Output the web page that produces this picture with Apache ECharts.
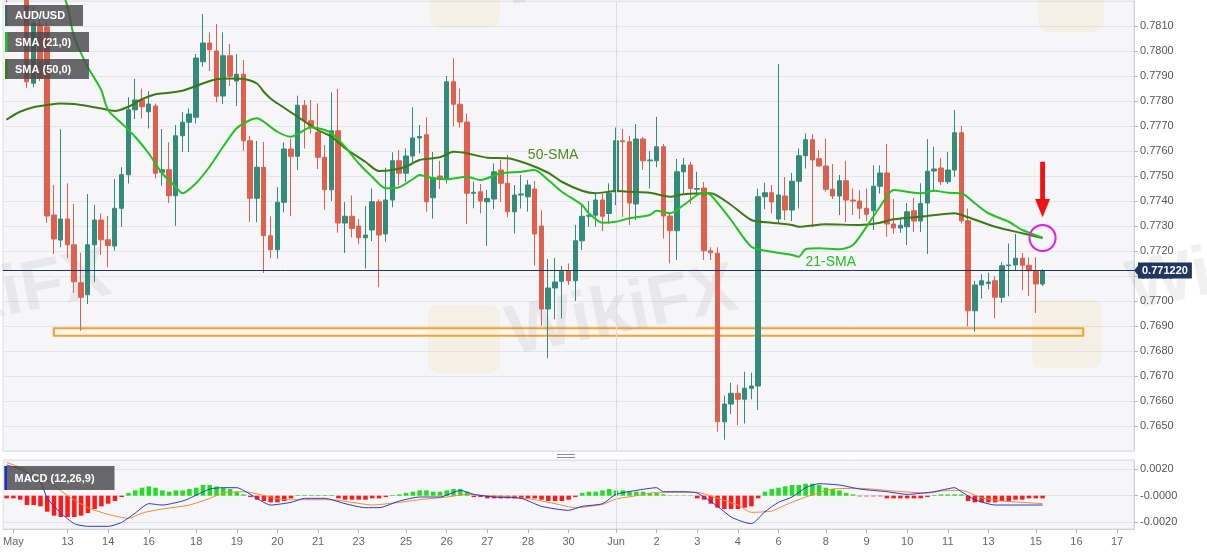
<!DOCTYPE html>
<html><head><meta charset="utf-8">
<script src="https://cdn.jsdelivr.net/npm/echarts@6/dist/echarts.min.js"></script>
<style>html,body{margin:0;padding:0;background:#fff;}#c{width:1207px;height:555px;}</style>
</head><body><div id="c"></div>
<script>
// ---------- DATA ----------
const slotCount = 167; // 4-hour slots on the time axis (incl. empty future slots)
const xTicks = [[1,'May'],[9,'13'],[15,'14'],[21,'16'],[28,'18'],[34,'19'],[40,'20'],[46,'21'],[52,'23'],[59,'25'],[65,'26'],[71,'27'],[77,'28'],[83,'30'],[90,'Jun'],[96,'2'],[102,'3'],[108,'4'],[114,'6'],[121,'8'],[127,'9'],[133,'10'],[139,'11'],[145,'13'],[152,'15'],[158,'16'],[164,'17']];
const monthStartSlot = 90;
// [open, high, low, close]
const candles = [
[0.7835,0.7840,0.78195,0.7826],[0.7826,0.7838,0.7822,0.7833],[0.7833,0.7837,0.7823,0.7825],[0.7825,0.7829,0.77851,0.77877],
[0.77871,0.78177,0.77855,0.78111],[0.78104,0.7815,0.7788,0.77891],[0.78097,0.7812,0.77313,0.7734],[0.77344,0.77464,0.77188,0.77248],
[0.77244,0.77687,0.77215,0.77328],[0.77328,0.77471,0.77171,0.77225],[0.77225,0.77388,0.77032,0.77077],[0.77073,0.77193,0.76881,0.77015],
[0.77025,0.77428,0.76988,0.77225],[0.77225,0.77385,0.77075,0.77324],[0.77324,0.7735,0.77184,0.77245],[0.77245,0.7734,0.77135,0.77222],
[0.7722,0.77488,0.77201,0.77371],[0.77371,0.77535,0.77297,0.77505],[0.77505,0.77815,0.7747,0.77765],[0.77765,0.77888,0.77728,0.77804],
[0.77804,0.7785,0.7773,0.77777],[0.77757,0.7784,0.7769,0.77788],[0.7778,0.7779,0.7749,0.77511],[0.77515,0.77688,0.77461,0.77525],
[0.77525,0.77635,0.77392,0.77421],[0.77421,0.77704,0.77301,0.77661],[0.77661,0.77756,0.77596,0.77715],[0.77715,0.7777,0.77596,0.77748],
[0.77735,0.77988,0.7771,0.77972],[0.77957,0.78148,0.77937,0.78032],[0.78032,0.78075,0.7792,0.78005],[0.78,0.78108,0.77795,0.77819],
[0.7782,0.78075,0.77788,0.77981],[0.77981,0.78028,0.7786,0.77899],[0.7788,0.77988,0.7778,0.77907],[0.77907,0.77964,0.77601,0.77641],
[0.77641,0.7766,0.77317,0.77411],[0.77411,0.7764,0.77315,0.77535],[0.77535,0.77636,0.77112,0.77261],[0.77261,0.77339,0.77171,0.77205],
[0.77205,0.77455,0.7717,0.77395],[0.77395,0.77635,0.77355,0.77608],[0.77608,0.77649,0.77339,0.77579],[0.77579,0.77821,0.77524,0.77783],
[0.77783,0.77804,0.7761,0.77721],[0.77721,0.77804,0.7767,0.77693],[0.77675,0.7779,0.77528,0.77575],[0.77575,0.77624,0.77365,0.77445],
[0.77445,0.77835,0.774,0.77681],[0.77681,0.77848,0.77273,0.77312],[0.77312,0.77395,0.77192,0.77339],[0.77339,0.77422,0.77254,0.7729],
[0.773,0.77328,0.77227,0.77253],[0.77253,0.7738,0.7713,0.77264],[0.77284,0.7745,0.7724,0.77397],[0.77397,0.77407,0.77055,0.77264],
[0.77268,0.77533,0.77237,0.77404],[0.77404,0.77595,0.77375,0.77561],[0.77561,0.77604,0.77464,0.77511],[0.77511,0.7761,0.77475,0.7758],
[0.7758,0.77775,0.77555,0.77652],[0.77652,0.77704,0.77591,0.77658],[0.77665,0.77735,0.77357,0.77397],[0.77413,0.77596,0.7733,0.77493],
[0.775,0.77561,0.77448,0.77487],[0.77487,0.779,0.7747,0.77877],[0.77877,0.77971,0.77699,0.77787],[0.77787,0.7785,0.77694,0.77716],
[0.77716,0.7775,0.77308,0.77431],[0.77431,0.77477,0.77371,0.77435],[0.77437,0.77468,0.7735,0.774],[0.77397,0.77444,0.7722,0.7741],
[0.77408,0.7755,0.77367,0.77517],[0.77524,0.77564,0.77397,0.77471],[0.77471,0.77584,0.77335,0.77357],[0.77357,0.77464,0.7727,0.77424],
[0.77424,0.77504,0.7737,0.77428],[0.77417,0.77484,0.77357,0.77464],[0.77448,0.7748,0.77141,0.77268],[0.773,0.77363,0.76901,0.76968],
[0.76968,0.77168,0.76771,0.77052],[0.77052,0.77172,0.76927,0.77076],[0.77079,0.7714,0.7693,0.77119],[0.77121,0.7715,0.77064,0.77081],
[0.77081,0.77304,0.77,0.77241],[0.77241,0.77388,0.77204,0.77339],[0.77339,0.774,0.77297,0.77343],[0.77343,0.77428,0.77297,0.77404],
[0.77404,0.77428,0.7728,0.77339],[0.7735,0.77471,0.7731,0.77431],[0.77437,0.77694,0.77384,0.77641],[0.77641,0.77688,0.77337,0.77637],
[0.77637,0.77661,0.77304,0.77392],[0.77388,0.77708,0.77324,0.77648],[0.77648,0.77656,0.77524,0.77561],[0.77561,0.776,0.7745,0.77564],
[0.77561,0.77737,0.77535,0.77617],[0.77617,0.77628,0.7725,0.7734],[0.7734,0.7735,0.7715,0.77281],[0.77281,0.77568,0.77164,0.77517],
[0.77517,0.77572,0.77431,0.77544],[0.77544,0.77557,0.77388,0.7745],[0.77447,0.77517,0.7742,0.7745],[0.77452,0.77476,0.77164,0.77201],
[0.77201,0.77215,0.77164,0.77193],[0.77191,0.77215,0.76477,0.76517],[0.76517,0.76621,0.76445,0.76588],[0.76588,0.76673,0.76548,0.76631],
[0.76631,0.76665,0.76503,0.76607],[0.76607,0.76717,0.7651,0.76651],[0.76651,0.76713,0.76607,0.7666],[0.7666,0.7745,0.76564,0.77417],
[0.77417,0.77473,0.77367,0.77433],[0.77433,0.77464,0.77351,0.77396],[0.77328,0.77948,0.77308,0.77424],[0.7742,0.77496,0.77324,0.77364],
[0.77364,0.77512,0.7732,0.77479],[0.77479,0.7761,0.7737,0.77581],[0.77581,0.7767,0.7753,0.77645],[0.77645,0.77668,0.77295,0.77564],
[0.77569,0.77604,0.77537,0.7754],[0.7754,0.7765,0.77437,0.77447],[0.77447,0.77548,0.77408,0.7742],[0.7742,0.77504,0.77344,0.77481],
[0.77481,0.77561,0.77316,0.77404],[0.77404,0.7745,0.77344,0.774],[0.774,0.77444,0.77328,0.77371],[0.77371,0.7745,0.7732,0.77347],
[0.77361,0.77543,0.77284,0.77459],[0.77459,0.77543,0.7743,0.77512],[0.77512,0.77628,0.77257,0.77308],[0.77308,0.77408,0.77268,0.77292],
[0.77292,0.77333,0.77273,0.77303],[0.77297,0.77392,0.77224,0.77357],[0.77361,0.77413,0.77276,0.7732],[0.7732,0.77471,0.77276,0.7739],
[0.77392,0.77648,0.77188,0.77519],[0.7752,0.77617,0.77436,0.77528],[0.77532,0.77572,0.77464,0.77477],[0.77477,0.77596,0.77468,0.77524],
[0.77524,0.77764,0.77497,0.77673],[0.77673,0.777,0.7731,0.77321],[0.77321,0.7737,0.76899,0.76961],[0.76961,0.77081,0.76877,0.77064],
[0.77064,0.77107,0.7701,0.77081],[0.7707,0.77113,0.77047,0.77076],[0.77081,0.77099,0.76931,0.77015],[0.77015,0.77155,0.76993,0.77141],
[0.77141,0.7723,0.77019,0.77144],[0.77144,0.77268,0.77121,0.77171],[0.77171,0.77192,0.77043,0.77143],[0.77143,0.77175,0.7702,0.77121],
[0.77121,0.77175,0.76952,0.77068],[0.77068,0.77127,0.7706,0.77122]
];
// [slot, value]
const sma21 = [[6,0.7842],[9,0.7818],[10,0.78057],[12,0.77937],[14,0.77844],[15,0.77764],[17,0.77711],[19,0.77657],[21,0.77591],[23,0.77511],[25,0.77457],[26,0.77431],[28,0.77471],[30,0.77537],[32,0.77617],[34,0.77691],[36,0.77724],[37,0.77731],[38,0.77717],[40,0.77677],[42,0.77657],[43,0.77668],[45,0.77695],[47,0.77684],[48,0.77671],[50,0.77617],[52,0.77551],[54,0.77497],[56,0.77451],[58,0.77455],[60,0.77487],[61,0.77504],[63,0.77491],[65,0.77487],[68,0.77497],[70,0.77484],[73,0.77511],[76,0.77517],[78,0.77524],[80,0.77484],[82,0.77437],[85,0.77384],[86,0.77351],[88,0.77313],[90,0.77317],[92,0.77331],[95,0.77344],[96,0.77361],[98,0.77351],[100,0.77384],[102,0.77424],[103,0.77433],[104,0.77424],[107,0.77324],[110,0.77217],[113,0.77197],[116,0.77184],[117,0.77177],[118,0.77207],[120,0.77211],[123,0.77207],[125,0.77224],[127,0.77297],[129,0.77377],[131,0.77444],[133,0.77437],[135,0.77431],[137,0.77441],[139,0.77433],[141,0.77431],[143,0.77391],[145,0.77351],[148,0.77317],[150,0.77284],[153,0.77253]];
const sma50 = [[0,0.77725],[2,0.77757],[4,0.77775],[6,0.77784],[8,0.7779],[10,0.77788],[12,0.7778],[14,0.7777],[16,0.7776],[18,0.77777],[20,0.77807],[22,0.77827],[24,0.77833],[26,0.77841],[28,0.7786],[29,0.7787],[31,0.77887],[33,0.7789],[35,0.77888],[37,0.7787],[38,0.77837],[39,0.7781],[40,0.77791],[43,0.77737],[46,0.77684],[48,0.77657],[50,0.77611],[53,0.77557],[55,0.7752],[57,0.77524],[59,0.77537],[61,0.77564],[64,0.77575],[66,0.77597],[68,0.77591],[71,0.77573],[74,0.77571],[77,0.77548],[80,0.77513],[82,0.77477],[85,0.77441],[87,0.77431],[90,0.7744],[92,0.77437],[95,0.77433],[98,0.77417],[100,0.77427],[104,0.77431],[107,0.77384],[110,0.77324],[113,0.77313],[116,0.77304],[117,0.77297],[121,0.77307],[126,0.77304],[129,0.77313],[131,0.77327],[136,0.7734],[140,0.77351],[142,0.77335],[146,0.77297],[150,0.77271],[153,0.77252]];
const macdLine = [[0,0.0023],[2,0.0020],[5,0.0010],[6,-0.0002],[8,-0.0013],[10,-0.0021],[12,-0.0023],[15,-0.0023],[17,-0.0020],[19,-0.0013],[21,-0.0006],[23,-0.0007],[26,-0.0004],[27,-0.0002],[30,0.0005],[32,0.0006],[34,0.0006],[36,0.0001],[39,-0.0007],[42,-0.0005],[44,-0.0002],[47,-0.0002],[50,-0.0006],[53,-0.0009],[55,-0.0009],[58,-0.0004],[61,-0.0001],[64,-0.0001],[67,0.0004],[69,0.0001],[72,-0.0001],[76,-0.0002],[79,-0.0008],[83,-0.0011],[85,-0.0008],[88,-0.0006],[90,0.0001],[93,0.0004],[96,0.0006],[97,0.0003],[100,0.0003],[102,0.0002],[105,-0.0008],[107,-0.0016],[109,-0.0020],[110,-0.0021],[112,-0.0012],[114,-0.0005],[116,-0.0001],[118,0.0006],[120,0.0009],[123,0.0008],[126,0.0005],[130,0.0003],[133,0.0001],[137,0.0003],[140,0.0006],[141,0.0003],[143,-0.0003],[146,-0.0007],[148,-0.0007],[153,-0.0007]];
const signalLine = [[0,0.0025],[5,0.0015],[9,0.0],[12,-0.0009],[15,-0.0014],[18,-0.0017],[20,-0.0013],[23,-0.0010],[27,-0.0007],[30,-0.0002],[32,0.0002],[35,0.0003],[39,-0.0001],[41,-0.0003],[44,-0.0003],[48,-0.0003],[51,-0.0005],[54,-0.0007],[58,-0.0005],[61,-0.0003],[65,-0.0001],[68,0.0001],[71,0.0],[75,-0.0001],[78,-0.0003],[81,-0.0006],[84,-0.0009],[88,-0.00065],[90,-0.00025],[93,0.0],[96,0.00025],[99,0.00025],[102,0.00025],[105,-0.0002],[108,-0.0007],[110,-0.00125],[113,-0.00115],[115,-0.0007],[118,-0.0001],[122,0.0005],[126,0.00055],[131,0.00035],[136,0.0002],[139,0.0004],[141,0.0004],[144,-0.00015],[147,-0.0004],[150,-0.0005],[153,-0.0006]];
const macdHist = [
-0.0002,-0.0002,-0.0003,-0.0007,-0.0007,-0.0008,-0.0012,-0.0015,-0.0016,-0.0016,-0.0016,-0.0015,-0.0013,-0.0010,-0.0008,-0.0006,-0.0004,-0.0001,
0.0002,0.0004,0.0006,0.0007,0.0006,0.0004,0.0003,0.0004,0.0004,0.0005,0.0006,0.0008,0.0008,0.0007,0.0006,0.0005,0.0003,0.0001,
-0.0001,-0.0003,-0.0004,-0.0005,-0.0005,-0.0004,-0.0002,
0.00005,0.00005,0.00005,0.00005,0.00005,0.00005,
-0.0002,-0.0003,-0.0003,-0.0003,-0.0003,-0.0002,-0.0002,-0.0001,
0.00005,0.0001,0.0002,0.0003,0.0004,0.0004,0.0003,0.0003,0.0004,0.0005,0.0005,0.0003,
-0.0001,-0.0001,-0.0002,-0.0002,-0.0002,-0.0002,-0.0002,-0.0002,-0.0002,-0.0002,-0.0003,-0.0004,-0.0004,-0.0004,-0.0003,-0.0001,
0.0002,0.0003,0.0003,0.0004,0.0005,0.0004,0.0004,0.0003,0.0003,0.0003,0.0002,0.0002,0.0001,
0.00003,0.00003,0.00003,0.00003,
-0.0002,-0.0003,-0.0006,-0.0009,-0.001,-0.001,-0.001,-0.0009,-0.0008,-0.0002,
0.0003,0.0005,0.0006,0.0007,0.0008,0.0008,0.0009,0.0009,0.0008,0.0006,0.0005,0.0004,0.0002,0.0001,
-0.00005,-0.00005,-0.00005,-0.00005,
-0.0002,-0.0002,-0.0002,-0.0002,-0.0002,-0.0002,-0.0001,
0.00005,0.0001,0.0001,0.0001,0.0001,
-0.0004,-0.0005,-0.0005,-0.0005,-0.0005,-0.0004,-0.0004,-0.0003,-0.0003,-0.0002,-0.0002,-0.0002
];
const lastPrice = 0.77122;
const supportZone = [0.76861, 0.76891];
const zoneSlots = [7, 159];
const annotSlot = 153;
const crossPrice = 0.77252;
const arrowPrices = [0.77557, 0.77408, 0.77335];
const sma50LabelAt = [77, 0.77584];
const sma21LabelAt = [118, 0.77156];

// ---------- CHART ----------
const FONT = 'Arial, "Liberation Sans", sans-serif';
const UP = '#348b79', DOWN = '#e0604e';
const tickMap = {}; xTicks.forEach(([i, t]) => tickMap[i] = t);
const cats = Array.from({length: slotCount}, (_, i) => String(i));
const showTick = (idx) => tickMap[idx] !== undefined;
const GL = 3, GW = 1131;

const chart = echarts.init(document.getElementById('c'), null, {renderer: 'canvas'});
const option = {
  animation: false,
  backgroundColor: '#ffffff',
  textStyle: {fontFamily: FONT},
  grid: [
    {left: GL, top: 1, width: GW, height: 450, show: true, backgroundColor: '#f6f6f8', borderColor: '#dadde4', borderWidth: 1},
    {left: GL, top: 460, width: GW, height: 69, show: true, backgroundColor: '#f6f6f8', borderColor: '#dadde4', borderWidth: 1}
  ],
  xAxis: [
    {type: 'category', gridIndex: 0, data: cats, boundaryGap: true,
     axisLine: {show: false, onZero: false}, axisTick: {show: false}, axisLabel: {show: false}, splitLine: {show: false}},
    {type: 'category', gridIndex: 1, data: cats, boundaryGap: true, position: 'bottom',
     axisLine: {show: true, onZero: false, lineStyle: {color: '#cfd3da'}},
     axisTick: {show: true, alignWithLabel: true, interval: (i) => showTick(i), length: 4, lineStyle: {color: '#b5b9c0'}},
     axisLabel: {show: true, interval: (i) => showTick(i), formatter: (v, i) => tickMap[i] || '', color: '#666', fontSize: 11, margin: 7, fontFamily: FONT},
     splitLine: {show: false}}
  ],
  yAxis: [
    {type: 'value', gridIndex: 0, position: 'right', min: 0.764, max: 0.782, interval: 0.001,
     axisLine: {show: true, lineStyle: {color: '#cfd3da'}},
     axisTick: {show: true, length: 4, lineStyle: {color: '#b5b9c0'}},
     axisLabel: {show: true, showMinLabel: false, showMaxLabel: false, formatter: (v) => v.toFixed(4), color: '#555', fontSize: 11, margin: 6, fontFamily: FONT},
     splitLine: {show: true, lineStyle: {color: '#e4e5ea', width: 1}}},
    {type: 'value', gridIndex: 1, position: 'right', min: -0.0025, max: 0.00268, minInterval: 0.002, maxInterval: 0.002,
     axisLine: {show: true, lineStyle: {color: '#cfd3da'}},
     axisTick: {show: true, length: 4, lineStyle: {color: '#b5b9c0'}},
     axisLabel: {show: true, showMinLabel: false, showMaxLabel: false, formatter: (v) => (Math.abs(v) < 1e-9 ? '-0.0000' : v.toFixed(4)), color: '#555', fontSize: 11, margin: 6, fontFamily: FONT},
     splitLine: {show: true, lineStyle: {color: '#e2e3e8'}}}
  ],
  series: [
    {type: 'candlestick', xAxisIndex: 0, yAxisIndex: 0, barWidth: 5, z: 3,
     data: candles.map(([o, h, l, c]) => [o, c, l, h]),
     itemStyle: {color: UP, color0: DOWN, borderColor: UP, borderColor0: DOWN, borderWidth: 1},
     markLine: {silent: true, symbol: ['none', 'none'], animation: false, precision: 6,
       data: [
         {xAxis: monthStartSlot, lineStyle: {color: '#dcdde3', width: 1, type: 'solid'}, label: {show: false}},
         {yAxis: lastPrice, lineStyle: {color: '#1f3760', width: 1, type: 'solid'},
          label: {show: true, position: 'end', distance: 4, formatter: lastPrice.toFixed(6), color: '#fff', fontWeight: 'bold', fontSize: 11, fontFamily: FONT, backgroundColor: '#1f3760', padding: [3, 4, 2, 4]}}
       ]},
     markArea: {silent: true, precision: 6,
       itemStyle: {color: 'rgba(255,240,215,0.25)', borderColor: '#f3a330', borderWidth: 2.2},
       data: [[{xAxis: zoneSlots[0], yAxis: supportZone[1]}, {xAxis: zoneSlots[1], yAxis: supportZone[0]}]]}
    },
    {type: 'line', name: 'SMA50', xAxisIndex: 0, yAxisIndex: 0, data: sma50, showSymbol: false, smooth: 0.25, z: 4,
     lineStyle: {color: '#3b7a14', width: 2}},
    {type: 'line', name: 'SMA21', xAxisIndex: 0, yAxisIndex: 0, data: sma21, showSymbol: false, smooth: 0.25, z: 5,
     lineStyle: {color: '#22c222', width: 2}},
    {type: 'bar', xAxisIndex: 1, yAxisIndex: 1, barWidth: 4.5,
     data: macdHist.map(v => ({value: v, itemStyle: {color: v >= 0 ? '#1fe01f' : '#ff1a1a'}})),
     markLine: {silent: true, symbol: ['none', 'none'], data: [{xAxis: monthStartSlot}], lineStyle: {color: '#dcdde3', width: 1, type: 'solid'}, label: {show: false}}},
    {type: 'line', xAxisIndex: 1, yAxisIndex: 1, data: signalLine, showSymbol: false, smooth: 0.2, lineStyle: {color: '#f08a32', width: 1}},
    {type: 'line', xAxisIndex: 1, yAxisIndex: 1, data: macdLine, showSymbol: false, smooth: 0.2, lineStyle: {color: '#2436d4', width: 1}}
  ]
};
chart.setOption(option);

// ---------- annotations / decorations ----------
const P = (i, v) => chart.convertToPixel({gridIndex: 0}, [i, v]);
const [cx, cy] = P(annotSlot, crossPrice);
const ax = cx;
const ayTop = P(annotSlot, arrowPrices[0])[1];
const ayBase = P(annotSlot, arrowPrices[1])[1];
const ayTip = P(annotSlot, arrowPrices[2])[1];
const l50 = P(sma50LabelAt[0], sma50LabelAt[1]);
const l21 = P(sma21LabelAt[0], sma21LabelAt[1]);
const tagY = P(0, lastPrice)[1];
const axisX = GL + GW;

function legendBox(x, y, w, h, strip, text, z) {
  return {type: 'group', z: z, children: [
    {type: 'rect', shape: {x: x, y: y, width: w, height: h}, style: {fill: 'rgba(72,72,74,0.82)'}, z: z},
    {type: 'rect', shape: {x: x, y: y, width: 2.5, height: h}, style: {fill: strip}, z: z},
    {type: 'text', x: x + 10, y: y + h / 2 + 0.5, style: {text: text, fill: '#fff', font: 'bold 11px ' + FONT, verticalAlign: 'middle', align: 'left'}, z: z}
  ]};
}
const wm = 'rgba(150,150,150,0.14)';
const logo = 'rgba(240,190,80,0.10)';
chart.setOption({graphic: [
  // watermarks
  {type: 'rect', shape: {x: 428, y: 305, width: 72, height: 68, r: 10}, style: {fill: logo}, z: 1},
  {type: 'rect', shape: {x: 1032, y: 300, width: 70, height: 68, r: 10}, style: {fill: logo}, z: 1},
  {type: 'rect', shape: {x: 430, y: -38, width: 70, height: 66, r: 10}, style: {fill: logo}, z: 1},
  {type: 'rect', shape: {x: 1038, y: -34, width: 66, height: 66, r: 10}, style: {fill: logo}, z: 1},
  {type: 'text', x: 515, y: 370, rotation: 0.2, style: {text: 'WikiFX', fill: wm, font: 'bold 70px ' + FONT, verticalAlign: 'bottom'}, z: 1},
  {type: 'text', x: -112, y: 355, rotation: 0.2, style: {text: 'WikiFX', fill: wm, font: 'bold 70px ' + FONT, verticalAlign: 'bottom'}, z: 1},
  {type: 'text', x: 1135, y: 325, rotation: 0.2, style: {text: 'WikiFX', fill: wm, font: 'bold 70px ' + FONT, verticalAlign: 'bottom'}, z: 1},
  {type: 'text', x: 505, y: 22, rotation: 0.2, style: {text: 'WikiFX', fill: wm, font: 'bold 70px ' + FONT, verticalAlign: 'bottom'}, z: 1},
  // legends (drawn over the series, semi-transparent)
  legendBox(5, 5, 78, 21, '#3d6464', 'AUD/USD', 20),
  legendBox(5, 32, 84, 20, '#22c222', 'SMA (21,0)', 20),
  legendBox(5, 59, 84, 20, '#3b7a14', 'SMA (50,0)', 20),
  legendBox(4.5, 466, 110, 24, '#1a2ed0', 'MACD (12,26,9)', 20),
  // pane divider handle
  {type: 'line', shape: {x1: 557, y1: 454.5, x2: 575, y2: 454.5}, style: {stroke: '#8a8a8a', lineWidth: 1}, z: 20},
  {type: 'line', shape: {x1: 557, y1: 457.5, x2: 575, y2: 457.5}, style: {stroke: '#8a8a8a', lineWidth: 1}, z: 20},
  // price tag pointer
  {type: 'polygon', shape: {points: [[axisX, tagY], [axisX + 5, tagY - 6], [axisX + 5, tagY + 6]]}, style: {fill: '#1f3760'}, z: 30},
  // annotations
  {type: 'text', x: l50[0], y: l50[1], style: {text: '50-SMA', fill: '#4f8a22', font: '14px ' + FONT, verticalAlign: 'middle', align: 'left'}, z: 30},
  {type: 'text', x: l21[0], y: l21[1], style: {text: '21-SMA', fill: '#22bf22', font: '14px ' + FONT, verticalAlign: 'middle', align: 'left'}, z: 30},
  {type: 'polygon', shape: {points: [[ax - 2.4, ayTop], [ax + 2.4, ayTop], [ax + 2.4, ayBase], [ax + 7.5, ayBase], [ax, ayTip], [ax - 7.5, ayBase], [ax - 2.4, ayBase]]}, style: {fill: '#f01212'}, z: 30},
  {type: 'circle', shape: {cx: cx, cy: cy, r: 13}, style: {fill: 'none', stroke: '#e01fe0', lineWidth: 2}, z: 30}
]});
</script></body></html>
